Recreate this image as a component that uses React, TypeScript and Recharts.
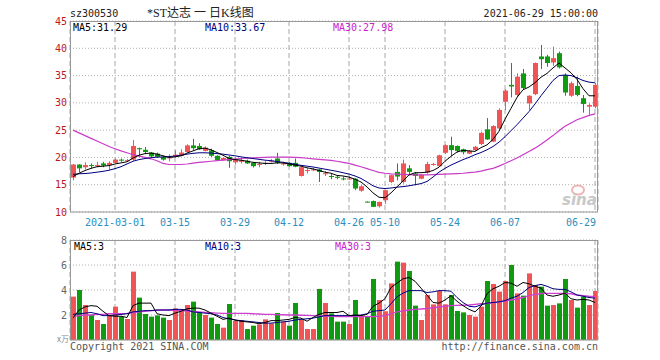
import React from "react";
import { Bar, CartesianGrid, Cell, ComposedChart, Line, XAxis, YAxis } from "recharts";

const dates = [
  "02-18", "02-19", "02-22", "02-23", "02-24", "02-25", "02-26", "03-01", "03-02", "03-03",
  "03-04", "03-05", "03-08", "03-09", "03-10", "03-11", "03-12", "03-15", "03-16", "03-17",
  "03-18", "03-19", "03-22", "03-23", "03-24", "03-25", "03-26", "03-29", "03-30", "03-31",
  "04-01", "04-02", "04-06", "04-07", "04-08", "04-09", "04-12", "04-13", "04-14", "04-15",
  "04-16", "04-19", "04-20", "04-21", "04-22", "04-23", "04-26", "04-27", "04-28", "04-29",
  "05-06", "05-07", "05-10", "05-11", "05-12", "05-13", "05-14", "05-17", "05-18", "05-19",
  "05-20", "05-21", "05-24", "05-25", "05-26", "05-27", "05-28", "05-31", "06-01", "06-02",
  "06-03", "06-04", "06-07", "06-08", "06-09", "06-10", "06-11", "06-15", "06-16", "06-17",
  "06-18", "06-21", "06-22", "06-23", "06-24", "06-25", "06-28", "06-29",
];

const opens = [
  16.3, 18.7, 18.2, 18.6, 18.4, 18.9, 18.6, 19.0, 19.6, 19.4,
  19.6, 21.7, 21.4, 20.9, 20.7, 20.1, 19.9, 20.1, 20.3, 21.0,
  22.2, 22.1, 21.2, 21.3, 20.3, 19.5, 20.1, 19.1, 19.2, 19.4,
  19.0, 18.7, 18.9, 19.3, 19.8, 18.8, 19.0, 19.0, 16.6, 17.5,
  17.7, 17.8, 17.0, 16.6, 16.45, 16.15, 16.05, 16.1, 13.9, 11.9,
  12.0, 11.05, 12.15, 15.5, 17.35, 15.5, 18.0, 17.05, 16.1, 17.2,
  18.7, 18.4, 20.85, 22.25, 22.1, 21.5, 20.7, 21.35, 22.45, 25.15,
  22.9, 25.3, 30.2, 33.3, 31.45, 35.4, 29.9, 31.6, 38.5, 38.5,
  37.4, 39.1, 35.1, 31.3, 33.1, 30.85, 29.3, 29.3,
];
const highs = [
  18.8, 18.75, 19.1, 18.9, 19.2, 19.2, 19.3, 19.8, 19.8, 19.7,
  23.2, 21.8, 21.9, 21.0, 20.9, 20.3, 20.55, 21.3, 21.5, 22.4,
  23.4, 22.6, 22.0, 21.6, 20.4, 20.0, 20.3, 20.0, 19.8, 19.6,
  19.1, 19.2, 19.3, 19.7, 20.85, 19.2, 19.1, 19.8, 18.3, 18.0,
  18.0, 17.9, 17.5, 17.1, 16.7, 16.5, 16.5, 16.2, 14.9, 11.95,
  12.1, 11.9, 14.0, 16.85, 18.9, 19.6, 18.6, 17.3, 16.9, 19.2,
  19.0, 20.5, 22.4, 23.8, 22.2, 21.6, 21.3, 22.1, 24.7, 27.2,
  25.9, 29.0, 32.5, 37.3, 35.4, 36.2, 31.4, 37.4, 40.6, 38.8,
  40.3, 39.4, 35.4, 33.9, 34.8, 31.45, 29.9, 33.7,
];
const lows = [
  15.8, 17.3, 17.8, 18.0, 18.2, 18.2, 17.7, 18.9, 19.2, 19.2,
  19.4, 20.1, 20.6, 20.0, 19.9, 19.4, 19.3, 20.0, 20.2, 20.9,
  21.3, 21.4, 21.1, 20.1, 19.4, 19.4, 18.1, 18.7, 18.9, 18.8,
  18.15, 18.2, 18.6, 19.1, 18.8, 18.5, 18.3, 18.2, 16.5, 17.05,
  17.5, 15.5, 16.6, 16.0, 16.0, 15.8, 15.9, 14.0, 13.7, 11.8,
  10.9, 10.8, 11.5, 15.3, 15.8, 15.2, 16.75, 14.9, 16.0, 17.0,
  18.5, 18.3, 20.6, 20.25, 20.9, 20.55, 20.6, 21.2, 22.25, 23.2,
  22.8, 25.0, 28.7, 31.0, 31.0, 32.4, 28.7, 31.4, 36.2, 36.6,
  36.8, 36.3, 31.3, 31.1, 31.2, 28.2, 27.8, 29.0,
];
const closes = [
  18.7, 18.0, 18.6, 18.5, 18.6, 18.5, 19.0, 19.6, 19.5, 19.5,
  22.1, 21.5, 21.0, 20.2, 20.1, 19.6, 20.0, 20.5, 20.9, 22.2,
  21.7, 21.5, 21.8, 20.3, 19.5, 19.9, 19.3, 19.7, 19.5, 18.9,
  18.4, 18.8, 19.0, 19.4, 19.0, 18.9, 18.4, 18.3, 18.2, 17.7,
  17.8, 17.35, 17.1, 16.55, 16.35, 16.1, 16.15, 14.3, 14.7, 11.85,
  10.95, 11.85, 14.0, 16.75, 16.5, 18.9, 17.35, 16.6, 16.8, 18.8,
  18.8, 20.4, 22.25, 21.35, 21.2, 20.95, 21.2, 21.95, 24.5, 23.3,
  25.75, 28.7, 32.25, 33.0, 34.8, 32.7, 31.3, 37.3, 38.0, 37.3,
  38.2, 36.5, 31.9, 33.6, 31.45, 29.8, 29.6, 33.3,
];
const volumes = [
  3.47, 4.0, 2.8, 2.0, 1.6, 1.28, 2.0, 2.67, 1.87, 1.68,
  5.47, 3.39, 2.08, 1.87, 1.97, 1.79, 1.6, 2.53, 2.4, 2.8,
  3.07, 2.21, 2.0, 1.79, 1.28, 0.99, 2.88, 1.52, 1.6, 0.88,
  1.15, 1.25, 1.65, 1.33, 2.16, 1.47, 1.15, 2.96, 1.6, 0.88,
  0.88, 4.08, 2.96, 2.13, 1.47, 1.47, 1.28, 3.2, 1.87, 1.87,
  4.88, 3.2, 2.3, 4.53, 6.27, 6.19, 5.52, 2.75, 1.6, 3.6,
  2.85, 3.92, 2.85, 3.6, 2.32, 2.21, 2.0, 1.87, 2.67, 4.72,
  4.48, 3.87, 4.72, 6.0, 3.73, 3.55, 5.33, 4.4, 4.27, 2.75,
  2.8, 2.93, 4.88, 3.2, 2.59, 3.47, 2.8, 3.92,
];

const ma5 = [
  16.5, 17.1, 17.6, 18.0, 18.3, 18.4, 18.5, 18.8, 19.0, 19.2,
  19.9, 20.4, 20.7, 20.8, 20.6, 20.3, 20.0, 20.1, 20.3, 20.8,
  21.2, 21.6, 21.7, 21.4, 20.9, 20.4, 19.8, 19.6, 19.5, 19.3,
  19.1, 19.0, 18.9, 18.9, 19.0, 19.0, 18.8, 18.6, 18.4, 18.1,
  17.9, 17.6, 17.3, 17.1, 16.7, 16.6, 16.4, 16.0, 15.5, 14.6,
  13.5, 12.7, 12.6, 13.5, 14.6, 15.7, 16.8, 17.2, 17.2, 17.3,
  17.6, 18.2, 19.3, 20.2, 21.0, 21.3, 21.2, 21.1, 21.8, 22.3,
  23.3, 24.8, 27.0, 29.0, 31.0, 32.4, 32.9, 33.7, 34.7, 35.4,
  36.4, 37.3, 36.4, 35.5, 34.3, 32.6, 31.3, 31.29,
];
const ma10 = [
  16.9, 17.0, 17.05, 17.15, 17.3, 17.45, 17.65, 17.95, 18.3, 18.8,
  19.3, 19.6, 19.8, 19.95, 20.05, 20.1, 20.15, 20.25, 20.4, 20.6,
  20.75, 20.85, 20.85, 20.8, 20.7, 20.6, 20.45, 20.3, 20.1, 19.95,
  19.8, 19.65, 19.5, 19.4, 19.25, 19.1, 18.95, 18.75, 18.55, 18.4,
  18.25, 18.05, 17.85, 17.65, 17.45, 17.2, 16.95, 16.6, 16.15, 15.5,
  14.8, 14.4, 14.3, 14.4, 14.55, 14.65, 14.8, 15.0, 15.2, 15.6,
  16.4, 17.3, 18.0, 18.6, 19.1, 19.6, 20.0, 20.5, 20.9, 21.4,
  22.0, 22.8, 23.8, 24.9, 26.0, 27.2, 28.4, 29.8, 31.3, 32.7,
  34.1, 35.0, 35.1, 35.0, 34.6, 34.1, 33.8, 33.67,
];
const ma30 = [
  25.0, 24.5, 24.0, 23.5, 23.0, 22.5, 22.0, 21.6, 21.2, 20.85,
  20.5, 20.25, 20.0, 19.75, 19.4, 18.9, 18.7, 18.7, 18.7, 18.8,
  18.95, 19.1, 19.2, 19.3, 19.4, 19.5, 19.6, 19.7, 19.8, 19.85,
  19.9, 19.95, 20.0, 20.05, 20.05, 20.05, 20.05, 20.0, 19.95, 19.85,
  19.75, 19.65, 19.55, 19.45, 19.3, 19.1, 18.9, 18.6, 18.3, 17.95,
  17.6, 17.25, 17.1, 17.0, 16.95, 16.9, 16.85, 16.8, 16.8, 16.8,
  16.85, 16.9, 16.95, 17.0, 17.05, 17.1, 17.2, 17.3, 17.5, 17.75,
  18.0, 18.4, 18.9, 19.4, 19.9, 20.5, 21.1, 21.7, 22.4, 23.2,
  24.0, 24.9, 25.7, 26.3, 26.9, 27.3, 27.7, 27.98,
];

const volMa5 = [
  1.75, 2.4, 2.65, 2.75, 2.7, 2.3, 1.95, 1.9, 1.9, 1.8,
  2.75, 2.95, 2.95, 2.95, 2.1, 2.0, 1.95, 2.15, 2.3, 2.5,
  2.55, 2.55, 2.4, 2.15, 1.9, 1.65, 1.75, 1.6, 1.5, 1.45,
  1.4, 1.3, 1.4, 1.55, 1.55, 1.6, 1.65, 1.8, 1.75, 1.5,
  1.8, 2.05, 2.2, 2.2, 2.2, 2.3, 1.95, 2.0, 1.95, 2.05,
  2.7, 2.95, 3.3, 4.2, 4.55, 4.9, 5.0, 4.7, 4.15, 3.6,
  3.0, 2.95, 3.2, 3.55, 3.1, 2.75, 2.45, 2.25, 2.7, 3.7,
  4.1, 4.3, 4.6, 4.55, 4.3, 4.6, 4.5, 4.3, 4.15, 3.6,
  3.5, 3.6, 3.75, 3.3, 3.2, 3.25, 3.2, 3.0,
];
const volMa10 = [
  2.05, 2.1, 2.15, 2.2, 2.1, 1.95, 1.95, 2.0, 2.05, 2.1,
  2.25, 2.3, 2.35, 2.35, 2.4, 2.4, 2.4, 2.45, 2.45, 2.4,
  2.25, 2.2, 2.15, 2.1, 2.0, 1.8, 1.7, 1.6, 1.55, 1.5,
  1.45, 1.4, 1.35, 1.35, 1.4, 1.45, 1.5, 1.6, 1.65, 1.7,
  1.75, 1.85, 1.95, 1.95, 1.95, 1.95, 1.95, 1.95, 2.0, 2.1,
  2.3, 2.35, 2.4, 2.9, 3.45, 3.75, 3.95, 3.95, 3.95, 3.8,
  3.85, 3.95, 3.95, 3.9, 3.4, 3.0, 2.7, 2.65, 2.8, 2.95,
  3.0, 3.05, 3.15, 3.35, 3.5, 3.8, 4.2, 4.35, 4.45, 4.3,
  4.1, 4.05, 4.05, 3.85, 3.6, 3.5, 3.4, 3.35,
];
const volMa30 = [
  1.87, 1.95, 2.0, 2.0, 2.05, 2.05, 2.1, 2.1, 2.1, 2.13,
  2.18, 2.25, 2.3, 2.35, 2.38, 2.4, 2.4, 2.38, 2.35, 2.32,
  2.28, 2.25, 2.21, 2.18, 2.15, 2.13, 2.13, 2.13, 2.13, 2.13,
  2.1, 2.08, 2.05, 2.05, 2.03, 2.02, 2.0, 2.0, 1.98, 1.97,
  1.95, 1.93, 1.92, 1.9, 1.88, 1.87, 1.87, 1.87, 1.87, 1.87,
  1.87, 1.9, 1.95, 2.1, 2.25, 2.33, 2.4, 2.45, 2.48, 2.52,
  2.58, 2.65, 2.7, 2.75, 2.77, 2.78, 2.8, 2.85, 2.9, 2.93,
  2.98, 3.05, 3.12, 3.2, 3.28, 3.4, 3.55, 3.65, 3.72, 3.73,
  3.73, 3.73, 3.73, 3.7, 3.6, 3.55, 3.5, 3.47,
];

const tickDates = ["03-01", "03-15", "03-29", "04-12", "04-26", "05-10", "05-24", "06-07", "06-29"];
const tickLabels = ["2021-03-01", "03-15", "03-29", "04-12", "04-26", "05-10", "05-24", "06-07", "06-29"];
const priceTicks = [10, 15, 20, 25, 30, 35, 40, 45];
const volumeTicks = [2, 4, 6, 8];

const RED = "#f05454";
const GREEN = "#109a10";
const MONO = "'DejaVu Sans Mono', monospace";

const rows = dates.map((date, i) => ({
  date,
  open: opens[i],
  high: highs[i],
  low: lows[i],
  close: closes[i],
  range: [lows[i], highs[i]],
  vol: volumes[i],
  ma5: ma5[i],
  ma10: ma10[i],
  ma30: ma30[i],
  vma5: volMa5[i],
  vma10: volMa10[i],
  vma30: volMa30[i],
}));

function Candle(props: any) {
  const { x, y, width, height, payload } = props;
  const up = payload.close >= payload.open;
  const color = up ? RED : GREEN;
  const k = height / (payload.high - payload.low || 1);
  const yo = y + (payload.high - payload.open) * k;
  const yc = y + (payload.high - payload.close) * k;
  const rx = Math.round(x);
  const cx = rx + Math.floor(width / 2) + 0.5;
  return (
    <g>
      <line x1={cx} x2={cx} y1={y} y2={y + height} stroke={color} strokeWidth={1} />
      <rect x={rx} y={Math.min(yo, yc)} width={width} height={Math.max(Math.abs(yo - yc), 1)} fill={color} />
    </g>
  );
}

function DateTick({ x, y, payload }: any) {
  const i = tickDates.indexOf(payload.value);
  const last = i === tickDates.length - 1;
  return (
    <text
      x={last ? x + 1 : x}
      y={y + 12}
      textAnchor={last ? "end" : "middle"}
      fill="#2a8fc0"
      fontSize={10}
      fontFamily={MONO}
    >
      {tickLabels[i]}
    </text>
  );
}

const txt = { fontSize: 10, fontFamily: MONO };

export default function App() {
  return (
    <div style={{ position: "absolute", left: 0, top: 0, width: 660, height: 360, background: "#fff" }}>
      <div style={{ position: "absolute", left: 0, top: 0 }}>
        <ComposedChart width={660} height={232} data={rows} margin={{ top: 21, right: 62, bottom: 0, left: 0 }}>
          <CartesianGrid vertical={false} stroke="#b0b0b0" strokeDasharray="1 2" />
          <CartesianGrid horizontal={false} stroke="#a8a8a8" strokeDasharray="5 3" />
          <XAxis
            dataKey="date"
            ticks={tickDates}
            interval={0}
            tick={DateTick}
            tickLine={false}
            tickSize={0}
            axisLine={false}
            height={20}
          />
          <YAxis
            domain={[10, 45]}
            ticks={priceTicks}
            allowDataOverflow
            width={70}
            tickLine={false}
            tickSize={0}
            tickMargin={3}
            axisLine={false}
            tick={{ fill: "#c01818", fontSize: 10, fontFamily: MONO }}
          />
          <Bar dataKey="range" barSize={5} shape={Candle} isAnimationActive={false} />
          <Line type="linear" dataKey="ma30" stroke="#c83cc8" strokeWidth={1.2} dot={false} isAnimationActive={false} />
          <Line type="linear" dataKey="ma10" stroke="#000080" strokeWidth={1} dot={false} isAnimationActive={false} />
          <Line type="linear" dataKey="ma5" stroke="#000000" strokeWidth={1} dot={false} isAnimationActive={false} />
        </ComposedChart>
      </div>
      <div style={{ position: "absolute", left: 0, top: 220 }}>
        <ComposedChart width={660} height={140} data={rows} margin={{ top: 20, right: 62, bottom: 0, left: 0 }}>
          <CartesianGrid vertical={false} stroke="#b0b0b0" strokeDasharray="1 2" />
          <CartesianGrid horizontal={false} stroke="#a8a8a8" strokeDasharray="5 3" />
          <XAxis
            dataKey="date"
            ticks={tickDates}
            interval={0}
            tick={() => <g />}
            tickLine={false}
            axisLine={false}
            height={20}
          />
          <YAxis
            domain={[0, 8]}
            ticks={volumeTicks}
            width={70}
            tickLine={false}
            tickSize={0}
            tickMargin={3}
            axisLine={false}
            tick={{ fill: "#666", fontSize: 10, fontFamily: MONO }}
          />
          <Bar dataKey="vol" barSize={5} isAnimationActive={false}>
            {rows.map((r, i) => (
              <Cell key={i} fill={r.close >= r.open ? RED : GREEN} />
            ))}
          </Bar>
          <Line type="linear" dataKey="vma30" stroke="#d040d0" strokeWidth={1.3} dot={false} isAnimationActive={false} />
          <Line type="linear" dataKey="vma10" stroke="#000080" strokeWidth={1} dot={false} isAnimationActive={false} />
          <Line type="linear" dataKey="vma5" stroke="#000000" strokeWidth={1} dot={false} isAnimationActive={false} />
        </ComposedChart>
      </div>
      <svg width={660} height={360} style={{ position: "absolute", left: 0, top: 0, pointerEvents: "none" }}>
        <rect x={70.5} y={21.5} width={527} height={190.5} fill="none" stroke="#999" />
        <rect x={70.5} y={240.5} width={527} height={99.5} fill="none" stroke="#999" />
        <text x={70} y={17} fill="#222" {...txt}>sz300530</text>
        <text x={147} y={17} fill="#222" fontSize={12} fontFamily="'Liberation Serif', 'Noto Sans CJK SC', serif">
          *ST达志 一 日K线图
        </text>
        <text x={598} y={17} fill="#222" textAnchor="end" {...txt}>2021-06-29 15:00:00</text>
        <text x={73} y={31} fill="#000" {...txt}>MA5:31.29</text>
        <text x={205} y={31} fill="#000080" {...txt}>MA10:33.67</text>
        <text x={333} y={31} fill="#cc22cc" {...txt}>MA30:27.98</text>
        <text x={74} y={250} fill="#000" {...txt}>MA5:3</text>
        <text x={205} y={250} fill="#000080" {...txt}>MA10:3</text>
        <text x={335} y={250} fill="#cc22cc" {...txt}>MA30:3</text>
        <text x={57} y={342} fill="#888" fontSize={8} fontFamily="'Noto Sans CJK SC', sans-serif">x万</text>
        <text x={70} y={350} fill="#555" {...txt}>Copyright 2021 SINA.COM</text>
        <text x={598} y={350} fill="#555" textAnchor="end" {...txt}>http://finance.sina.com.cn</text>
        <ellipse cx={578} cy={190} rx={6} ry={4.5} fill="none" stroke="#f0b4b4" strokeWidth={2} />
        <text x={562} y={205} fill="#c8c8c8" fontSize={15} fontWeight="bold" fontStyle="italic" fontFamily="'DejaVu Sans', sans-serif">
          sina
        </text>
      </svg>
    </div>
  );
}
